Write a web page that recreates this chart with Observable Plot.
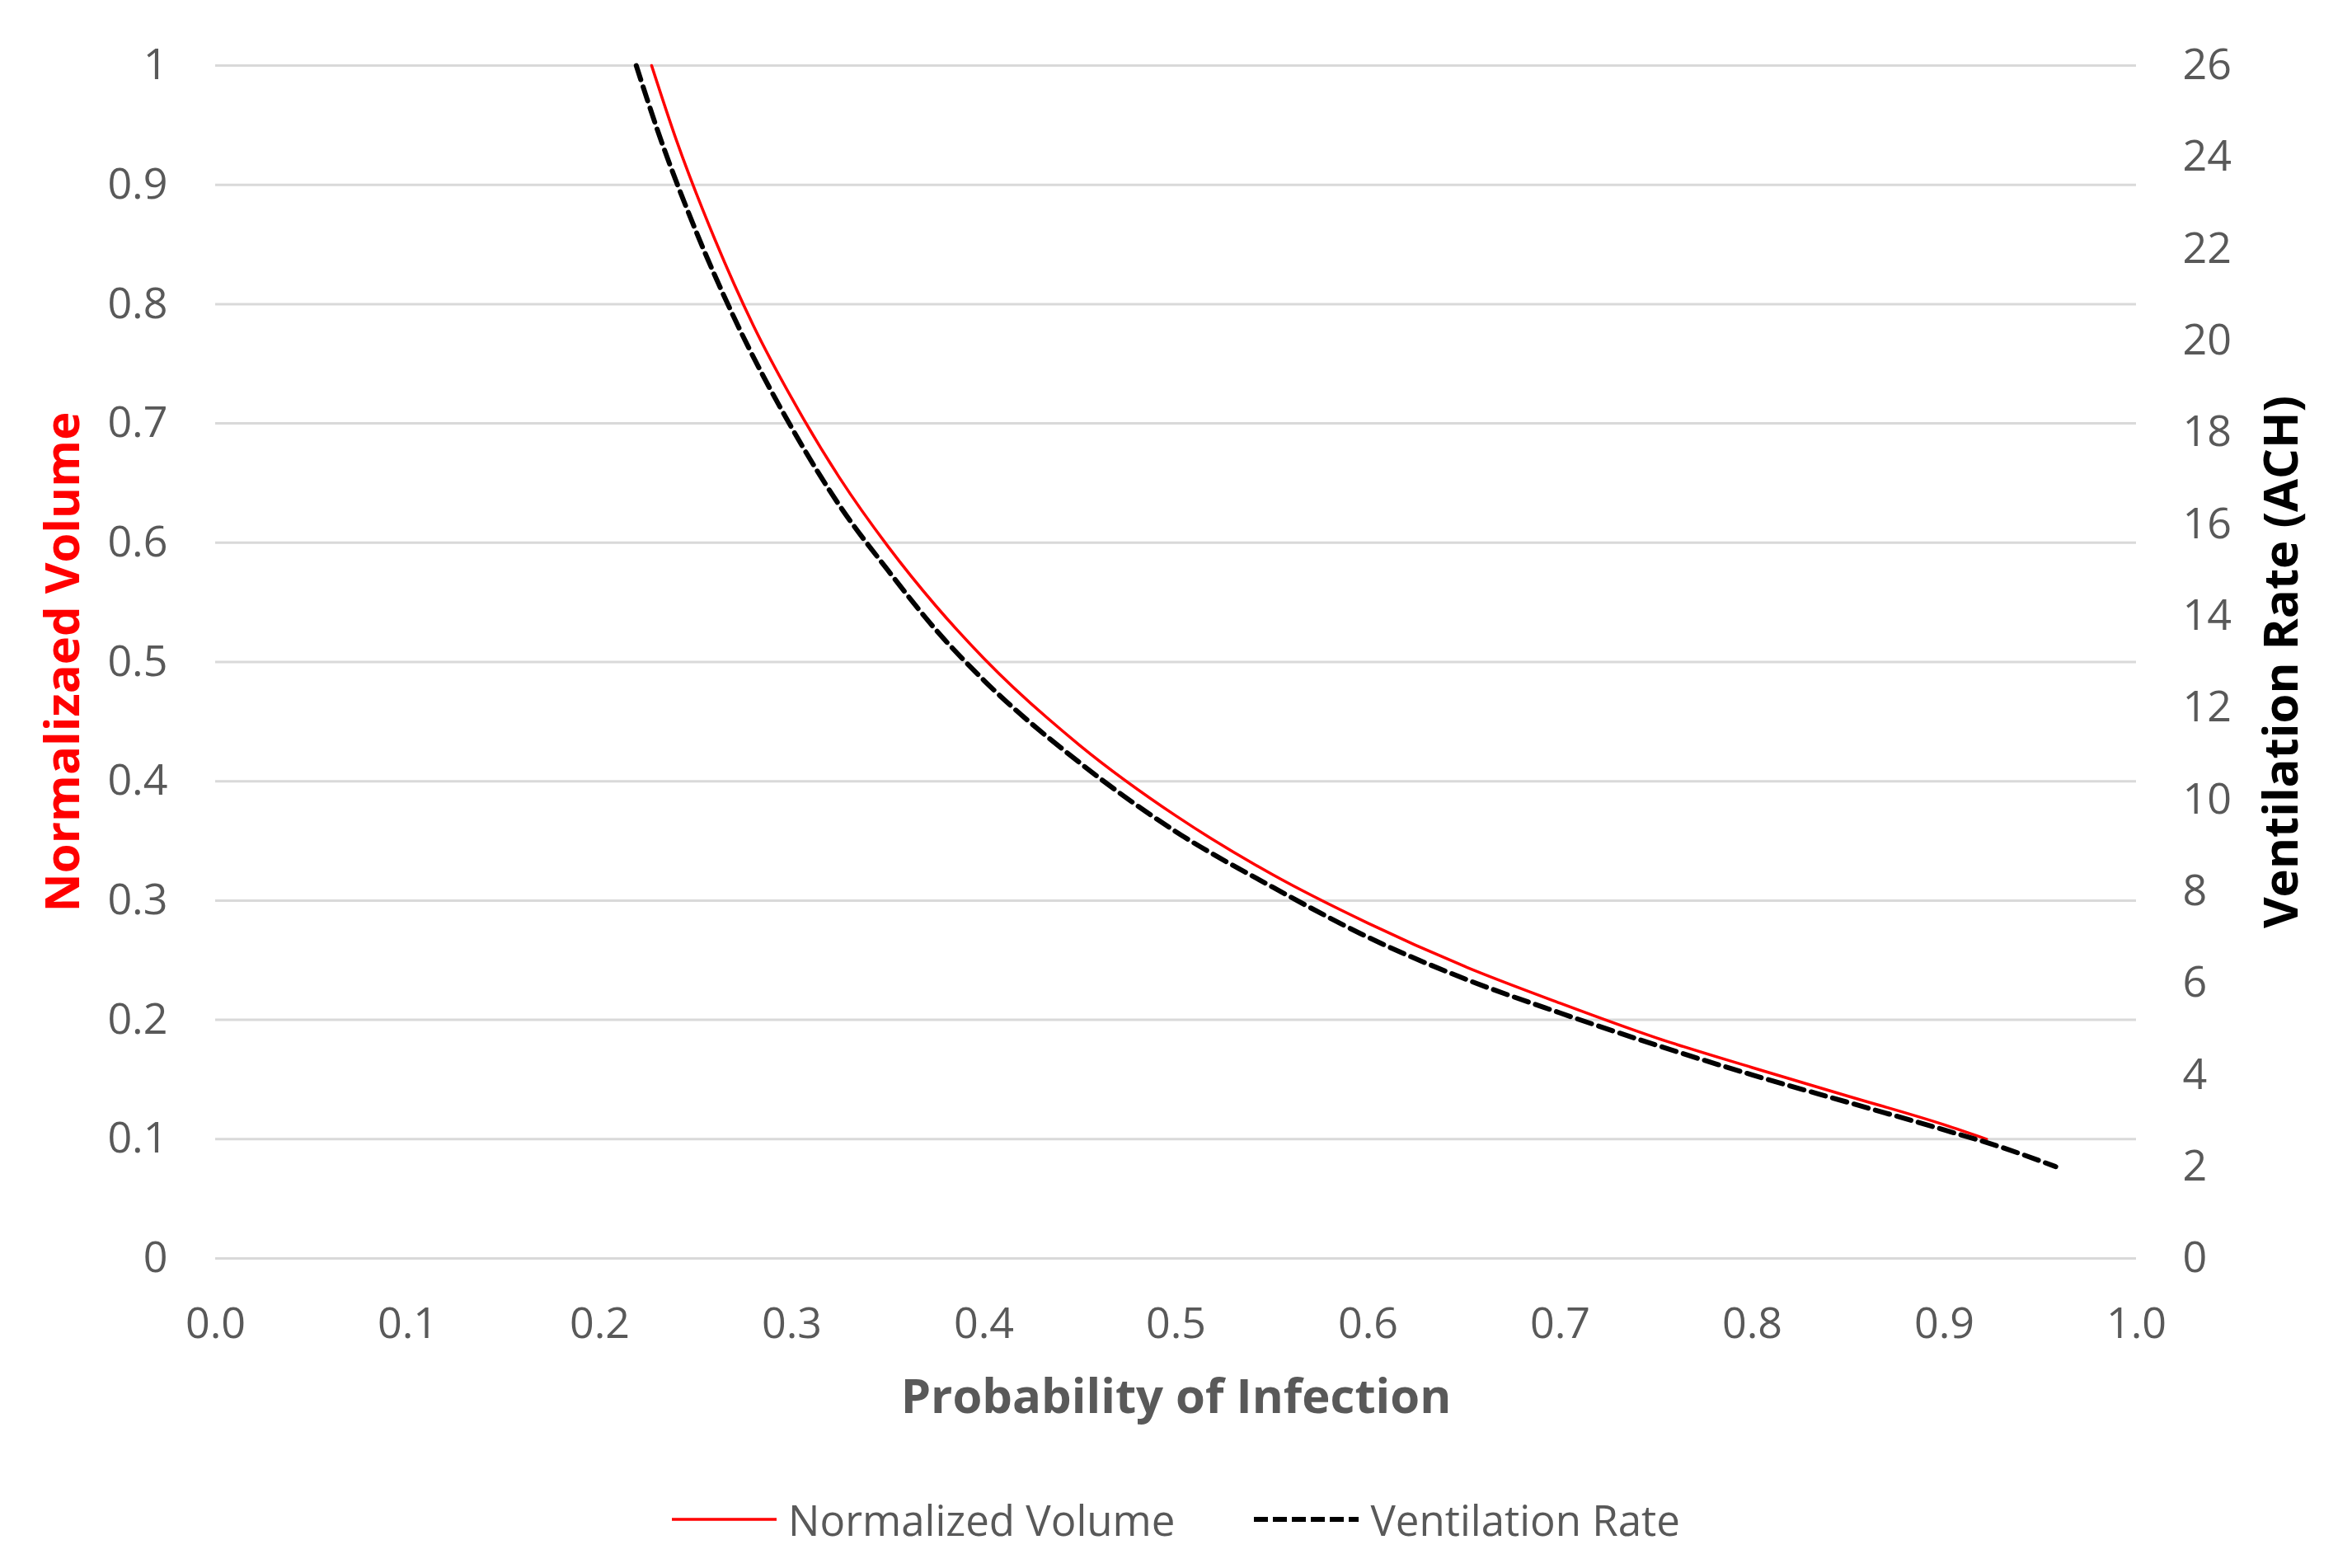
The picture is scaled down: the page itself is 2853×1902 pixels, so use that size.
<!DOCTYPE html>
<html>
<head>
<meta charset="utf-8">
<script src="https://cdn.jsdelivr.net/npm/d3@7"></script>
<script src="https://cdn.jsdelivr.net/npm/@observablehq/plot@0.6"></script>
<style>
  html, body { margin: 0; padding: 0; background: #fff; }
  body { width: 2853px; font-family: "Open Sans", sans-serif; }
  #legend { height: 106px; display: flex; align-items: center; justify-content: center; color: #595959; font-size: 51px; }
  #legend .item { display: flex; align-items: center; }
  #legend svg { display: block; margin-right: 14px; }
</style>
</head>
<body>
<div id="chart"></div>
<div id="legend"></div>
<script>
// Probability of infection (x) and normalized volume (left axis) — red curve
const probVolume = [0.227, 0.24, 0.26, 0.28, 0.30, 0.325, 0.35, 0.375, 0.40, 0.45, 0.50, 0.55, 0.60, 0.65, 0.70, 0.75, 0.80, 0.85, 0.90, 0.922];
const normVolume = [1.000, 0.937, 0.854, 0.782, 0.721, 0.654, 0.597, 0.547, 0.503, 0.430, 0.371, 0.322, 0.281, 0.245, 0.214, 0.185, 0.160, 0.136, 0.112, 0.100];

// Probability of infection (x) and ventilation rate in ACH (right axis) — black dashed curve
const probVent = [0.219, 0.23, 0.25, 0.27, 0.30, 0.325, 0.35, 0.375, 0.40, 0.45, 0.50, 0.55, 0.60, 0.65, 0.70, 0.75, 0.80, 0.85, 0.90, 0.93, 0.958];
const ventACH  = [26.0, 24.6, 22.4, 20.5, 18.1, 16.4, 15.0, 13.7, 12.6, 10.8, 9.3, 8.1, 7.0, 6.1, 5.35, 4.65, 4.0, 3.4, 2.8, 2.42, 2.0];

// Axis ticks
const xTicks = [0, 0.1, 0.2, 0.3, 0.4, 0.5, 0.6, 0.7, 0.8, 0.9, 1.0];
const yLeftTicks = [0, 0.1, 0.2, 0.3, 0.4, 0.5, 0.6, 0.7, 0.8, 0.9, 1];
const yRightTicks = [0, 2, 4, 6, 8, 10, 12, 14, 16, 18, 20, 22, 24, 26];
const achMax = 26; // right axis top aligns with left axis value 1

const volumeData = probVolume.map((p, i) => ({p, v: normVolume[i]}));
const ventData = probVent.map((p, i) => ({p, ach: ventACH[i]}));

const gray = "#595959";

const chart = Plot.plot({
  width: 2853,
  height: 1790,
  marginLeft: 261,
  marginRight: 262,
  marginTop: 79,
  marginBottom: 264,
  style: {fontFamily: "Open Sans, sans-serif", background: "#fff", overflow: "visible"},
  x: {domain: [0, 1]},
  y: {domain: [0, 1]},
  marks: [
    Plot.gridY(yLeftTicks, {stroke: "#d9d9d9", strokeOpacity: 1, strokeWidth: 3}),
    Plot.axisX(xTicks, {tickSize: 0, tickPadding: 60, fontSize: 52, color: gray, tickFormat: d3.format(".1f"), label: null}),
    Plot.axisY(yLeftTicks, {anchor: "left", tickSize: 0, tickPadding: 58, fontSize: 52, color: gray, tickFormat: d => String(+d.toFixed(1)), label: null}),
    Plot.axisY(yRightTicks.map(t => t / achMax), {anchor: "right", tickSize: 0, tickPadding: 56, fontSize: 52, color: gray, tickFormat: d => String(Math.round(d * achMax)), label: null}),
    Plot.line(volumeData, {x: "p", y: "v", stroke: "#ff0000", strokeWidth: 3.5, curve: "monotone-x"}),
    Plot.line(ventData, {x: "p", y: d => d.ach / achMax, stroke: "#000", strokeWidth: 6, strokeDasharray: "18,9", curve: "monotone-x"}),
    Plot.text(["Normalizaed Volume"], {text: d => d, frameAnchor: "left", textAnchor: "middle", lineAnchor: "middle", dx: -184, rotate: -90, fill: "#ff0000", fontSize: 58, fontWeight: "bold"}),
    Plot.text(["Ventilation Rate (ACH)"], {text: d => d, frameAnchor: "right", textAnchor: "middle", lineAnchor: "middle", dx: 177, rotate: -90, fill: "#000", fontSize: 58, fontWeight: "bold"}),
    Plot.text(["Probability of Infection"], {text: d => d, frameAnchor: "bottom", textAnchor: "middle", lineAnchor: "middle", dy: 169, fill: gray, fontSize: 58, fontWeight: "bold"})
  ]
});
document.getElementById("chart").appendChild(chart);

// Legend
const legendItems = [
  {label: "Normalized Volume", stroke: "#ff0000", width: 3.5, dash: null},
  {label: "Ventilation Rate", stroke: "#000", width: 6, dash: "17,6"}
];
const legend = d3.select("#legend");
legendItems.forEach((it, i) => {
  const item = legend.append("div").attr("class", "item").style("margin-left", i ? "96px" : "0");
  const sw = item.append("svg").attr("width", 127).attr("height", 20);
  sw.append("line").attr("x1", 0).attr("x2", 127).attr("y1", 10).attr("y2", 10)
    .attr("stroke", it.stroke).attr("stroke-width", it.width).attr("stroke-dasharray", it.dash);
  item.append("span").text(it.label);
});
</script>
</body>
</html>
